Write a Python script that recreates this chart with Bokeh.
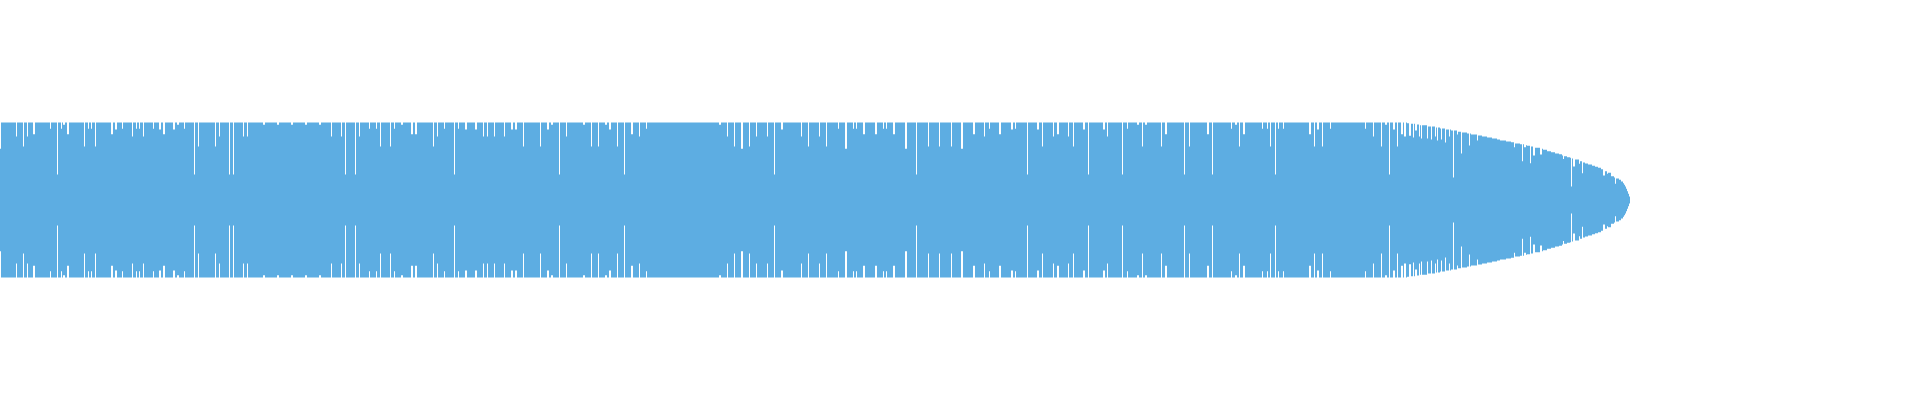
from bokeh.plotting import figure
from bokeh.models import ColumnDataSource, Range1d
from bokeh.embed import file_html
from bokeh.resources import INLINE

BAR_COLOR = "#5DADE2"

# Every bar is one unit wide; the first 1405 bars share the full level.
FULL_LEVEL = 100
N_FULL = 1405

# Tapering tail of the series (levels, with run lengths)
taper_level = [100, 99, 98.5, 97.5, 96.5, 95, 93.5, 92.3, 91, 89.7, 88, 87, 85.8, 84.5,
               83.2, 82, 80.6, 79.4, 78, 76.8, 75.5, 74.6, 72.9, 72, 70.5, 70, 69, 67.4,
               66, 64.8, 63, 61.7, 60, 59, 57.4, 56.5, 55.2, 54.4, 53.5, 52.3, 50, 48.4,
               47.1, 45.8, 44.1, 42.8, 41.5, 39.7, 38.5, 37.2, 35.1, 30.7, 29, 27.7, 26,
               23.9, 21.7, 19.6, 17.4, 14.5, 11.4, 8, 4.5]
taper_run = [2, 4, 4, 4, 8, 8, 5, 5, 6, 6, 4, 6, 4, 6,
             5, 5, 5, 5, 3, 6, 5, 4, 5, 4, 3, 3, 5, 5,
             3, 4, 4, 4, 4, 3, 2, 3, 3, 2, 3, 4, 3, 3,
             3, 4, 3, 3, 3, 2, 2, 2, 4, 3, 2, 3, 2,
             2, 1, 1, 1, 1, 1, 1, 1]

# Bars that fall short of the level around them
dip_bar = [0, 16, 23, 27, 33, 34, 50, 57, 61, 63, 64, 67, 68, 84, 88, 91, 95, 111, 112, 115, 116,
           122, 132, 136, 139, 143, 153, 159, 160, 163, 164, 173, 174, 177, 178, 184, 194, 198,
           215, 219, 229, 233, 243, 247, 263, 264, 277, 278,
           291, 292, 305, 306, 319, 320, 331, 341, 345, 355, 359, 369, 376, 380, 390, 394, 401, 402,
           411, 412, 415, 416, 433, 437, 444, 454, 458, 465, 466, 475, 476, 483, 487, 494, 504,
           511, 512, 515, 516, 523, 540, 547, 548, 551, 552, 559, 566, 583, 584, 591, 598, 605, 606,
           609, 610, 617, 624, 631, 632, 639, 646,
           719, 720, 727, 734, 741, 742, 749, 756, 767, 774, 781, 782, 801, 808, 819, 826, 838,
           845, 846, 853, 856, 863, 864, 875, 876, 883, 886, 893, 894, 905, 906, 916,
           928, 939, 951, 961, 962, 973, 974, 984, 989, 999, 1000, 1011, 1012, 1015, 1027, 1037,
           1038, 1042, 1053, 1057, 1058, 1068, 1073, 1083, 1084, 1088, 1103, 1104, 1107, 1122, 1127,
           1137, 1138, 1142, 1145, 1146, 1161, 1165, 1166, 1184, 1189, 1207, 1208, 1212, 1231, 1235,
           1236, 1239, 1243, 1244, 1262, 1267, 1270, 1275, 1278, 1283, 1309, 1310, 1314, 1317, 1318,
           1322, 1330,
           1365, 1373, 1381, 1385, 1386, 1389, 1393, 1394, 1397, 1401, 1402, 1404, 1405, 1409, 1410,
           1413, 1415, 1416, 1419, 1421, 1427, 1431, 1435, 1437, 1441, 1445, 1449, 1453, 1457, 1461,
           1469, 1477,
           1514, 1522, 1524, 1525, 1530, 1533, 1534, 1540, 1541, 1563, 1571, 1573, 1574, 1579, 1582,
           1603, 1604, 1607, 1615]
dip_value = [66, 82, 69, 82, 85, 85, 92, 33, 92, 97, 97, 85, 85, 69, 92, 92, 69, 85, 85, 91, 91,
             92, 82, 92, 92, 82, 92, 91, 91, 85, 85, 91, 91, 97, 97, 92, 33, 69,
             69, 82, 33, 33, 82, 82, 97, 97, 97, 97,
             97, 97, 97, 97, 97, 97, 82, 82, 33, 33, 82, 92, 92, 69, 69, 92, 97, 97,
             85, 85, 85, 85, 69, 82, 92, 33, 92, 91, 91, 91, 91, 82, 82, 82, 82,
             91, 91, 91, 91, 69, 69, 91, 91, 97, 97, 33, 82, 97, 97, 69, 69, 97, 97,
             91, 91, 69, 33, 85, 85, 82, 92,
             97, 97, 82, 69, 66, 66, 69, 82, 82, 33, 91, 91, 82, 69, 82, 69, 92,
             66, 66, 92, 92, 85, 85, 85, 85, 92, 92, 85, 85, 66, 66, 33,
             69, 69, 69, 66, 66, 85, 85, 82, 92, 85, 85, 91, 91, 92, 33, 91,
             91, 69, 82, 85, 85, 82, 69, 91, 91, 33, 91, 91, 82, 33, 92,
             97, 97, 69, 97, 97, 69, 85, 85, 33, 69, 85, 85, 33, 92, 97,
             97, 69, 85, 85, 92, 92, 69, 33, 92, 92, 85, 85, 69, 91, 91,
             69, 92,
             92, 82, 69, 97, 97, 33, 91, 91, 69, 85, 85, 82, 82, 83, 83,
             80.6, 89.7, 89.7, 82, 79.4, 79.4, 78, 82, 76.8, 78, 74.2, 82, 29, 84.5, 60,
             70.3, 76.8,
             68, 50, 68, 68, 47.5, 57.4, 57.4, 58.7, 58.7, 53, 17.4, 43.2, 43.2, 46.7, 34.6,
             31.6, 31.6, 33.8, 20.9]

heights = [FULL_LEVEL] * N_FULL
for lvl, run in zip(taper_level, taper_run):
    heights += [lvl] * run
for b, v in zip(dip_bar, dip_value):
    heights[b] = v

bars = list(range(len(heights)))
source = ColumnDataSource(dict(
    x=bars,
    top=[h / 2 for h in heights],
    bottom=[-h / 2 for h in heights],
))

p = figure(width=1904, height=384, output_backend="svg", toolbar_location=None,
           x_range=Range1d(-8, 1896), y_range=Range1d(-113.871, 133.871),
           min_border=0, min_border_left=0, min_border_right=0,
           min_border_top=0, min_border_bottom=0,
           styles={"margin-left": "-8px", "margin-top": "-8px"})
p.vbar(x="x", width=1, top="top", bottom="bottom", source=source,
       fill_color=BAR_COLOR, line_color=None)

p.axis.visible = False
p.grid.visible = False
p.outline_line_color = None
p.background_fill_color = "white"
p.border_fill_color = "white"

open("out.html", "w").write(file_html(p, INLINE))
